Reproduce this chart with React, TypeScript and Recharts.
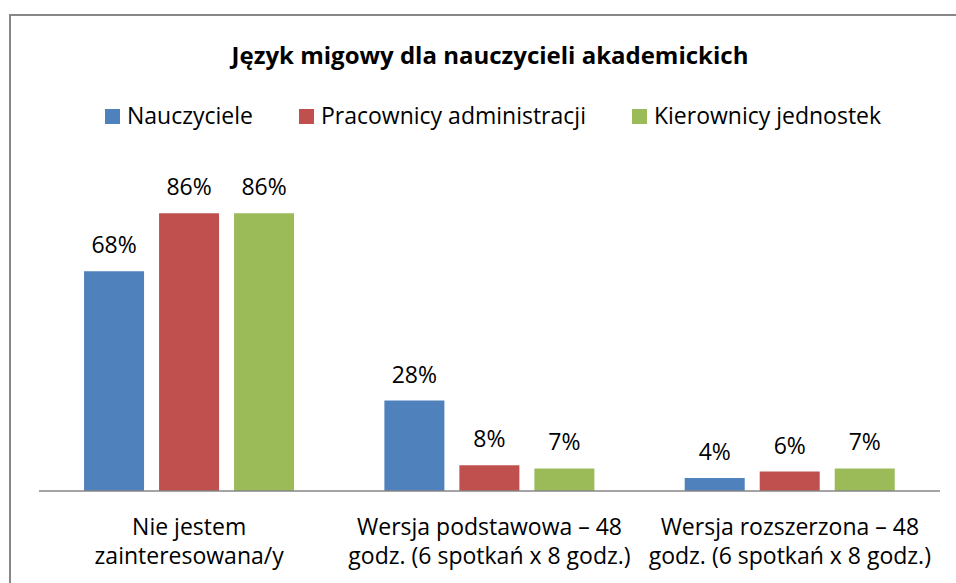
import React from 'react';
import { BarChart, Bar, XAxis, YAxis, LabelList } from 'recharts';

const categories = [
  ['Nie jestem', 'zainteresowana/y'],
  ['Wersja podstawowa – 48', 'godz. (6 spotkań x 8 godz.)'],
  ['Wersja rozszerzona – 48', 'godz. (6 spotkań x 8 godz.)'],
];
const nauczyciele = [68, 28, 4];
const pracownicy = [86, 8, 6];
const kierownicy = [86, 7, 7];

const seriesNames = ['Nauczyciele', 'Pracownicy administracji', 'Kierownicy jednostek'];
const colors = ['#4F81BD', '#C0504D', '#9BBB59'];

const data = categories.map((c, i) => ({
  name: c.join('\n'),
  a: nauczyciele[i],
  b: pracownicy[i],
  c: kierownicy[i],
}));

const FONT = '"Open Sans", sans-serif';

const CatTick = (props: any) => {
  const { x, y, payload } = props;
  const lines = String(payload.value).split('\n');
  return (
    <g>
      {lines.map((l: string, i: number) => (
        <text key={i} x={x} y={y + 36 + i * 29} textAnchor="middle" fill="#000" fontSize={23} fontFamily={FONT}>
          {l}
        </text>
      ))}
    </g>
  );
};

const App: React.FC = () => {
  return (
    <div
      style={{
        position: 'fixed',
        left: 0,
        top: 0,
        width: 956,
        height: 583,
        overflow: 'hidden',
        background: '#fff',
        fontFamily: FONT,
      }}
    >
      <style>{'html,body{overflow:hidden;}::-webkit-scrollbar{display:none;width:0;height:0;}'}</style>
      <div style={{ position: 'absolute', left: 9, top: 14, width: 947, height: 2, background: '#878787' }} />
      <div style={{ position: 'absolute', left: 9, top: 14, width: 2, height: 569, background: '#878787' }} />
      <div
        style={{
          position: 'absolute',
          left: 0,
          top: 55,
          width: 980,
          textAlign: 'center',
          fontWeight: 700,
          fontSize: 24,
          lineHeight: '0px',
          color: '#000',
        }}
      >
        Język migowy dla nauczycieli akademickich
      </div>
      <div
        style={{
          position: 'absolute',
          left: 105,
          top: 100,
          display: 'flex',
          alignItems: 'center',
          fontSize: 23,
          lineHeight: '30px',
          color: '#000',
          whiteSpace: 'nowrap',
        }}
      >
        {seriesNames.map((n, i) => (
          <div key={n} style={{ display: 'flex', alignItems: 'center', marginRight: i < 2 ? 46 : 0 }}>
            <span style={{ display: 'inline-block', width: 15, height: 15, background: colors[i], marginRight: 7, marginTop: 2 }} />
            <span>{n}</span>
          </div>
        ))}
      </div>
      <div style={{ position: 'absolute', left: 0, top: 0 }}>
        <BarChart
          width={956}
          height={583}
          data={data}
          margin={{ top: 168, right: 16, bottom: 91, left: 39 }}
          barCategoryGap="15%"
          barGap={15}
        >
          <XAxis
            dataKey="name"
            axisLine={{ stroke: '#868686', strokeWidth: 1.5 }}
            tickLine={false}
            tick={<CatTick />}
            interval={0}
            height={1}
          />
          <YAxis hide domain={[0, 100]} />
          {(['a', 'b', 'c'] as const).map((k, i) => (
            <Bar key={k} dataKey={k} fill={colors[i]} isAnimationActive={false}>
              <LabelList
                dataKey={k}
                position="top"
                offset={18}
                formatter={(v: any) => `${v}%`}
                style={{ fill: '#000', fontSize: 23, fontFamily: FONT }}
              />
            </Bar>
          ))}
        </BarChart>
      </div>
    </div>
  );
};

export default App;
